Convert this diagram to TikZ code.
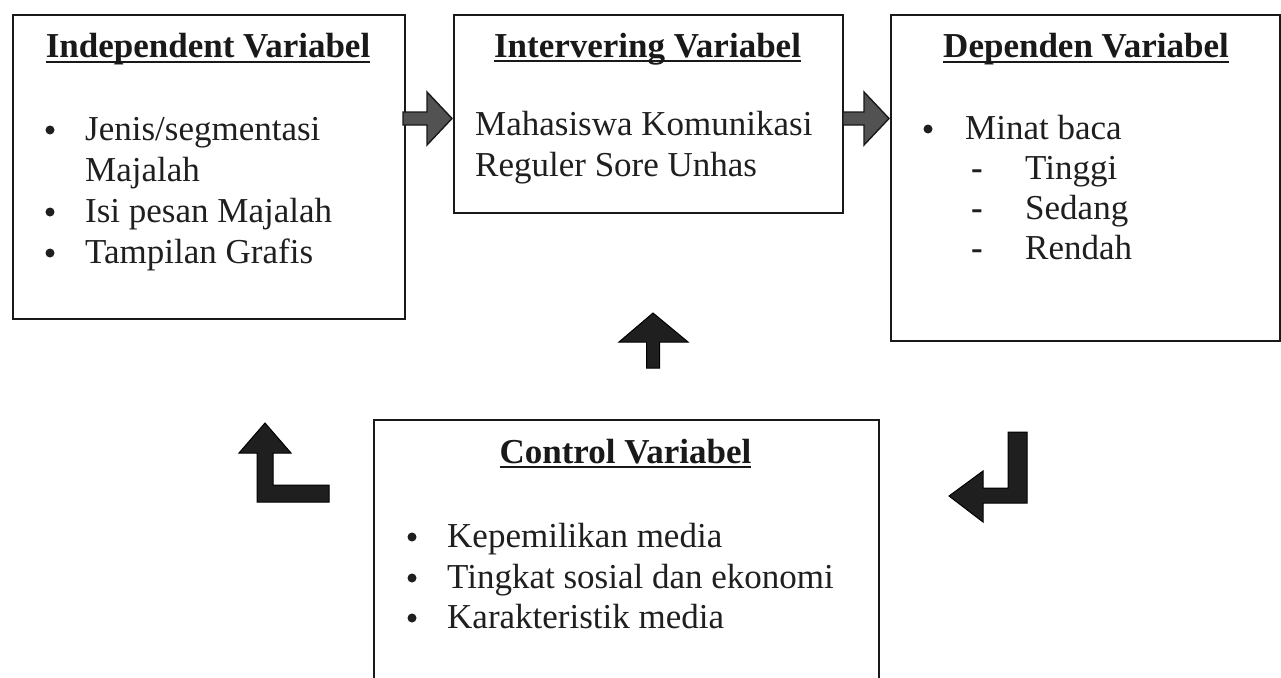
\documentclass[tikz,border=0pt]{standalone}
\usepackage{fontspec}
\setmainfont{Liberation Serif}
\newcommand\myul[1]{\setbox0\hbox{#1}\rlap{\rule[-4.5pt]{\wd0}{1.8pt}}\box0}
\tikzset{
  box/.style={draw=black!90, line width=1.6pt, anchor=north west, inner sep=0pt},
  txt/.style={anchor=base west, inner sep=0pt, font=\fontsize{35}{41}\selectfont, text=black!88},
  glyph/.style={anchor=base, inner sep=0pt, font=\fontsize{35}{41}\selectfont\bfseries, text=black!88},
  dot/.style={circle, fill=black!88, inner sep=0pt, minimum size=9pt},
  ttl/.style={anchor=base, inner sep=0pt, font=\fontsize{35}{41}\selectfont\bfseries, text=black!90},
  grayarrow/.style={fill=black!68, draw=black!90, line width=1.4pt, line join=miter},
  darkarrow/.style={fill=black!88, draw=black, line width=1pt, line join=miter},
}
\begin{document}
\begin{tikzpicture}[x=1pt,y=-1pt]
\useasboundingbox (0,0) rectangle (1281,677);
\fill[white] (0,0) rectangle (1281,677);
\begin{scope}
\clip (0,0) rectangle (1281,677);
% boxes
\node[box, minimum width=392pt, minimum height=304pt] (b1) at (12,14) {};
\node[box, minimum width=389pt, minimum height=198pt] (b2) at (453,14) {};
\node[box, minimum width=389pt, minimum height=326pt] (b3) at (890,14) {};
\node[box, minimum width=505pt, minimum height=300pt] (b4) at (373,419) {};

% box 1
\node[ttl] (t1) at (208,58) {\myul{Independent Variabel}};
\node[dot] (d1a) at (50,130) {};
\node[txt] (i1a) at (85,140) {Jenis/segmentasi};
\node[txt] (i1b) at (85,181) {Majalah};
\node[dot] (d1c) at (50,212) {};
\node[txt] (i1c) at (85,222) {Isi pesan Majalah};
\node[dot] (d1d) at (50,253) {};
\node[txt] (i1d) at (85,263) {Tampilan Grafis};

% box 2
\node[ttl] (t2) at (647.5,57) {\myul{Intervering Variabel}};
\node[txt] (i2a) at (475,135) {Mahasiswa Komunikasi};
\node[txt] (i2b) at (475,176) {Reguler Sore Unhas};

% box 3
\node[ttl] (t3) at (1086,58) {\myul{Dependen Variabel}};
\node[dot] (d3a) at (928,129) {};
\node[txt] (i3a) at (965,139) {Minat baca};
\node[glyph] (h3b) at (977,179) {-};
\node[txt] (i3b) at (1025,179) {Tinggi};
\node[glyph] (h3c) at (977,219) {-};
\node[txt] (i3c) at (1025,219) {Sedang};
\node[glyph] (h3d) at (977,259) {-};
\node[txt] (i3d) at (1025,259) {Rendah};

% box 4
\node[ttl] (t4) at (625.5,463) {\myul{Control Variabel}};
\node[dot] (d4a) at (412,537) {};
\node[txt] (i4a) at (447,547) {Kepemilikan media};
\node[dot] (d4b) at (412,578) {};
\node[txt] (i4b) at (447,588) {Tingkat sosial dan ekonomi};
\node[dot] (d4c) at (412,618) {};
\node[txt] (i4c) at (447,628) {Karakteristik media};

% block arrows
\filldraw[grayarrow] (403,112) -- (427,112) -- (427,92) -- (452,118.5) -- (427,145) -- (427,125) -- (403,125) -- cycle;
\filldraw[grayarrow] (843,112) -- (864,112) -- (864,92) -- (889,118.5) -- (864,145) -- (864,125) -- (843,125) -- cycle;
\filldraw[darkarrow] (646.5,368) -- (646.5,342) -- (619,342) -- (653,313) -- (688,342) -- (659.5,342) -- (659.5,368) -- cycle;
\filldraw[darkarrow] (265,423) -- (291,453) -- (273,453) -- (273,485) -- (329,485) -- (329,502) -- (257,502) -- (257,453) -- (239,453) -- cycle;
\filldraw[darkarrow] (1008,432) -- (1027,432) -- (1027,503) -- (983,503) -- (983,522) -- (949,496) -- (983,471) -- (983,488) -- (1008,488) -- cycle;
\end{scope}
\end{tikzpicture}
\end{document}
